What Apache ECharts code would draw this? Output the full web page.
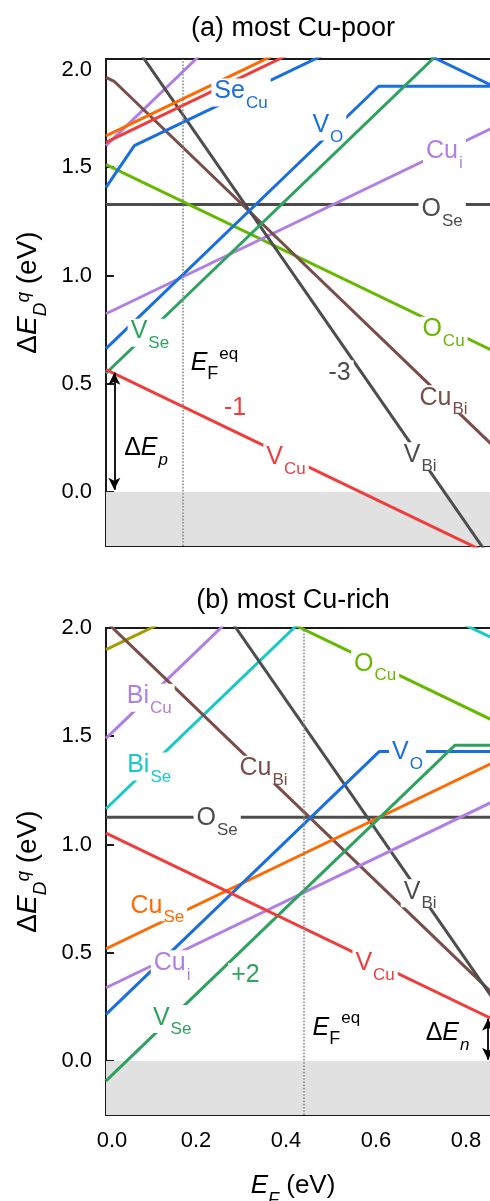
<!DOCTYPE html>
<html><head><meta charset="utf-8">
<script src="https://cdn.jsdelivr.net/npm/echarts@6/dist/echarts.min.js"></script>
<style>html,body{margin:0;padding:0;background:#fff}#c{width:490px;height:1201px}</style>
</head><body><div id="c"></div>
<script>
// ---------------- data ----------------
// every line: [E_F (eV), ΔE_D^q (eV)] breakpoints of the piecewise-linear curve
const xTicks = [0, 0.2, 0.4, 0.6, 0.8];
const yTicks = [0, 0.5, 1.0, 1.5, 2.0];

// (a) most Cu-poor
const a_VCu  = [[0, 0.565], [0.88, -0.315]];
const a_VBi  = [[0, 2.255], [0.88, -0.385]];
const a_OSe  = [[0, 1.328], [0.88, 1.328]];
const a_OCu  = [[0, 1.512], [0.88, 0.632]];
const a_CuBi = [[0, 1.915], [0.018, 1.897], [0.88, 0.173]];
const a_Cui  = [[0, 0.823], [0.88, 1.703]];
const a_BiCu = [[0, 1.600], [0.25, 2.100]];
const a_CuSe = [[0, 1.645], [0.45, 2.095]];
const a_red2 = [[0, 1.615], [0.45, 2.065]];
const a_SeCu = [[0, 1.407], [0.063, 1.600], [0.600, 2.135], [0.88, 1.855]];
const a_VO   = [[0, 0.662], [0.606, 1.874], [0.88, 1.874]];
const a_VSe  = [[0, 0.548], [0.80, 2.148]];
const a_EFeq = 0.167;
const a_dEp  = [0.55, 0.01];   // ΔE_p arrow span
const a_dEpX = 0.0185;

// (b) most Cu-rich
const b_VCu  = [[0, 1.052], [0.88, 0.172]];
const b_VBi  = [[0, 2.867], [0.88, 0.227]];
const b_OSe  = [[0, 1.126], [0.88, 1.126]];
const b_OCu  = [[0.35, 2.083], [0.88, 1.553]];
const b_CuBi = [[0, 2.030], [0.88, 0.270]];
const b_BiCu = [[0, 1.490], [0.30, 2.090]];
const b_BiSe = [[0, 1.165], [0.549, 2.263], [0.88, 1.932]];
const b_olive= [[0, 1.900], [0.15, 2.050]];
const b_VO   = [[0, 0.215], [0.607, 1.429], [0.88, 1.429]];
const b_VSe  = [[0, -0.092], [0.775, 1.458], [0.88, 1.458]];
const b_CuSe = [[0, 0.518], [0.88, 1.398]];
const b_Cui  = [[0, 0.338], [0.88, 1.218]];
const b_EFeq = 0.437;
const b_dEn  = [0.195, 0.005]; // ΔE_n arrow span
const b_dEnX = 0.849;

// ---------------- styling ----------------
const FONT = '"Liberation Sans", Arial, Helvetica, sans-serif';
const AX = '#1a1a1a';
const C = {blue:'#1a6fe0', red:'#ee3d3d', orange:'#ff6a00', green:'#2ea35f', lime:'#66b800',
           purple:'#b07fe4', brown:'#7a4d48', gray:'#4d4d4d', cyan:'#19c8c8', olive:'#a39b00', black:'#000'};

const linesA = [
  [a_OSe, C.gray], [a_OCu, C.lime], [a_Cui, C.purple], [a_BiCu, C.purple], [a_CuBi, C.brown],
  [a_VBi, C.gray], [a_CuSe, C.orange], [a_red2, C.red], [a_SeCu, C.blue], [a_VO, C.blue],
  [a_VSe, C.green], [a_VCu, C.red]
];
const linesB = [
  [b_OSe, C.gray], [b_olive, C.olive], [b_OCu, C.lime], [b_BiCu, C.purple], [b_BiSe, C.cyan],
  [b_CuBi, C.brown], [b_VBi, C.gray], [b_Cui, C.purple], [b_CuSe, C.orange], [b_VO, C.blue],
  [b_VSe, C.green], [b_VCu, C.red]
];

// text annotations: [rich text, E_F, ΔE, colour]
const labelsA = [
  ['{m|Se}{s|Cu}', 0.300, 1.845, C.blue],
  ['{m|V}{s|O}', 0.493, 1.688, C.blue],
  ['{m|Cu}{s|i}', 0.752, 1.568, C.purple],
  ['{m|O}{s|Se}', 0.747, 1.300, C.gray],
  ['{m|V}{s|Se}', 0.0975, 0.735, C.green],
  ['{mpi|E}{sp|F}{u|eq}', 0.241, 0.612, C.black],
  ['{m|-3}', 0.519, 0.543, C.gray],
  ['{m|O}{s|Cu}', 0.750, 0.745, C.lime],
  ['{m|Cu}{s|Bi}', 0.750, 0.428, C.brown],
  ['{m|-1}', 0.287, 0.382, C.red],
  ['{m|V}{s|Cu}', 0.400, 0.155, C.red],
  ['{m|V}{s|Bi}', 0.698, 0.165, C.gray],
  ['{m|Δ}{mi|E}{si|p}', 0.089, 0.195, C.black]
];
const labelsB = [
  ['{m|Bi}{s|Cu}', 0.096, 1.678, C.purple],
  ['{m|O}{s|Cu}', 0.598, 1.828, C.lime],
  ['{m|Bi}{s|Se}', 0.096, 1.360, C.cyan],
  ['{m|Cu}{s|Bi}', 0.350, 1.345, C.brown],
  ['{m|V}{s|O}', 0.670, 1.420, C.blue],
  ['{m|O}{s|Se}', 0.247, 1.115, C.gray],
  ['{m|V}{s|Bi}', 0.698, 0.775, C.gray],
  ['{m|Cu}{s|Se}', 0.114, 0.710, C.orange],
  ['{m|Cu}{s|i}', 0.147, 0.446, C.purple],
  ['{m|V}{s|Cu}', 0.598, 0.446, C.red],
  ['{m|+2}', 0.310, 0.388, C.green],
  ['{m|V}{s|Se}', 0.147, 0.193, C.green],
  ['{mpi|E}{sp|F}{u|eq}', 0.512, 0.169, C.black],
  ['{m|Δ}{mi|E}{si|n}', 0.759, 0.120, C.black]
];

const rich = {
  m:   {fontFamily: FONT, fontSize: 25, lineHeight: 28, verticalAlign: 'top'},
  mi:  {fontFamily: FONT, fontSize: 25, lineHeight: 28, verticalAlign: 'top', fontStyle: 'italic'},
  mpi: {fontFamily: FONT, fontSize: 25, lineHeight: 28, verticalAlign: 'top', fontStyle: 'italic', padding: [5, 0, 0, 0]},
  s:   {fontFamily: FONT, fontSize: 17, lineHeight: 17, verticalAlign: 'top', padding: [16, 0, 0, 1]},
  si:  {fontFamily: FONT, fontSize: 17, lineHeight: 17, verticalAlign: 'top', padding: [16, 0, 0, 1], fontStyle: 'italic'},
  sp:  {fontFamily: FONT, fontSize: 18, lineHeight: 18, verticalAlign: 'top', padding: [20, 0, 0, 0]},
  u:   {fontFamily: FONT, fontSize: 17, lineHeight: 17, verticalAlign: 'top', padding: [0, 0, 0, 1]}
};
const xNameRich = {
  n:  {fontFamily: FONT, fontSize: 26, lineHeight: 30, verticalAlign: 'top', color: '#000'},
  ni: {fontFamily: FONT, fontSize: 26, lineHeight: 30, verticalAlign: 'top', color: '#000', fontStyle: 'italic'},
  ns: {fontFamily: FONT, fontSize: 18, lineHeight: 18, verticalAlign: 'top', color: '#000', fontStyle: 'italic', padding: [18, 0, 0, 0]}
};
const yNameRich = {
  n:  {fontFamily: FONT, fontSize: 28, lineHeight: 32, verticalAlign: 'top', color: '#000'},
  ni: {fontFamily: FONT, fontSize: 28, lineHeight: 32, verticalAlign: 'top', color: '#000', fontStyle: 'italic'},
  ns: {fontFamily: FONT, fontSize: 19, lineHeight: 19, verticalAlign: 'top', color: '#000', fontStyle: 'italic', padding: [17, 0, 0, 0]},
  nu: {fontFamily: FONT, fontSize: 19, lineHeight: 19, verticalAlign: 'top', color: '#000', fontStyle: 'italic', padding: [0, 0, 0, 0]}
};
const tickRich = {
  x0: {fontFamily: FONT, fontSize: 22, color: '#000', padding: [0, 0, 0, 12]},
  y2: {fontFamily: FONT, fontSize: 22, color: '#000', padding: [22, 0, 0, 0]}
};

function xAxes(gi, withLabels) {
  return [{
    type: 'value', gridIndex: gi, min: 0, max: 0.9, position: 'bottom',
    axisLine: {show: true, onZero: false, lineStyle: {color: AX, width: 2}},
    axisTick: {show: true, inside: true, length: 8, lineStyle: {color: AX, width: 2}, customValues: xTicks},
    axisLabel: {show: withLabels, customValues: xTicks,
                formatter: v => v === 0 ? '{x0|0.0}' : v.toFixed(1),
                rich: tickRich, fontSize: 22, color: '#000', margin: 15, fontFamily: FONT},
    splitLine: {show: false},
    name: withLabels ? '{ni|E}{ns|F}{n| (eV)}' : '', nameLocation: 'middle', nameGap: 58,
    nameTextStyle: {rich: xNameRich, padding: [0, 31, 0, 0]}
  }, {
    type: 'value', gridIndex: gi, min: 0, max: 0.9, position: 'top',
    axisLine: {show: true, onZero: false, lineStyle: {color: AX, width: 2}},
    axisTick: {show: false}, axisLabel: {show: false}, splitLine: {show: false}
  }];
}
function yAxis(gi, pad, lowTop) {
  return {
    type: 'value', gridIndex: gi, min: -0.25, max: 2.0,
    axisLine: {show: true, onZero: false, lineStyle: {color: AX, width: 2}},
    axisTick: {show: true, inside: true, length: 8, lineStyle: {color: AX, width: 2}, customValues: yTicks},
    axisLabel: {customValues: yTicks,
                formatter: v => (lowTop && v === 2) ? '{y2|2.0}' : v.toFixed(1),
                rich: tickRich, fontSize: 22, color: '#000', margin: 14, fontFamily: FONT},
    splitLine: {show: false},
    name: '{n|Δ}{ni|E}{ns|D}{nu|q}{n| (eV)}', nameLocation: 'middle', nameGap: 60, nameRotate: 90,
    nameTextStyle: {rich: yNameRich, padding: pad}
  };
}

function panelSeries(gi, lines, labels, efeq, arrowX, arrowSpan) {
  const xi = gi * 2, yi = gi;
  const out = [];
  out.push({
    type: 'line', xAxisIndex: xi, yAxisIndex: yi, data: [], z: 1, silent: true,
    markArea: {silent: true, itemStyle: {color: '#e1e1e1'}, data: [[{yAxis: -0.25}, {yAxis: 0}]]},
    markLine: {silent: true, symbol: ['none', 'none'], label: {show: false},
               lineStyle: {type: 'dotted', color: '#8a8a8a', width: 1.6}, data: [{xAxis: efeq}]}
  });
  lines.forEach(([d, col]) => out.push({
    type: 'line', xAxisIndex: xi, yAxisIndex: yi, data: d, z: 2, silent: true,
    symbol: 'none', showSymbol: false, clip: true,
    lineStyle: {color: col, width: 3}, itemStyle: {color: col}
  }));
  out.push({
    type: 'line', xAxisIndex: xi, yAxisIndex: yi, data: [], z: 3, silent: true,
    markLine: {silent: true, symbol: ['arrow', 'arrow'], symbolSize: [9, 12], label: {show: false},
               lineStyle: {type: 'solid', color: '#000', width: 1.8},
               data: [[{coord: [arrowX, arrowSpan[0]]}, {coord: [arrowX, arrowSpan[1]]}]]}
  });
  out.push({
    type: 'scatter', xAxisIndex: xi, yAxisIndex: yi, symbolSize: 0, z: 6, silent: true,
    itemStyle: {opacity: 1},
    label: {show: true, position: 'inside', backgroundColor: '#fff', padding: [0, 3, 0, 3], rich: rich, fontFamily: FONT},
    data: labels.map(l => ({value: [l[1], l[2]], label: {formatter: l[0], color: l[3]}}))
  });
  return out;
}

const chart = echarts.init(document.getElementById('c'), null, {renderer: 'canvas'});
chart.setOption({
  animation: false,
  backgroundColor: '#fff',
  textStyle: {fontFamily: FONT},
  title: [
    {text: '(a) most Cu-poor', left: 293, top: 15, textAlign: 'center', padding: 0,
     textStyle: {fontFamily: FONT, fontSize: 27, fontWeight: 'normal', color: '#000'}},
    {text: '(b) most Cu-rich', left: 293, top: 587, textAlign: 'center', padding: 0,
     textStyle: {fontFamily: FONT, fontSize: 27, fontWeight: 'normal', color: '#000'}}
  ],
  grid: [
    {left: 106, top: 59, width: 405, height: 487, outerBoundsMode: 'none', containLabel: false},
    {left: 106, top: 628, width: 405, height: 487, outerBoundsMode: 'none', containLabel: false}
  ],
  xAxis: [...xAxes(0, false), ...xAxes(1, true)],
  yAxis: [yAxis(0, [0, 0, 0, 20], true), yAxis(1, [0, 0, 0, 0], false)],
  series: [
    ...panelSeries(0, linesA, labelsA, a_EFeq, a_dEpX, a_dEp),
    ...panelSeries(1, linesB, labelsB, b_EFeq, b_dEnX, b_dEn)
  ]
});
</script></body></html>
